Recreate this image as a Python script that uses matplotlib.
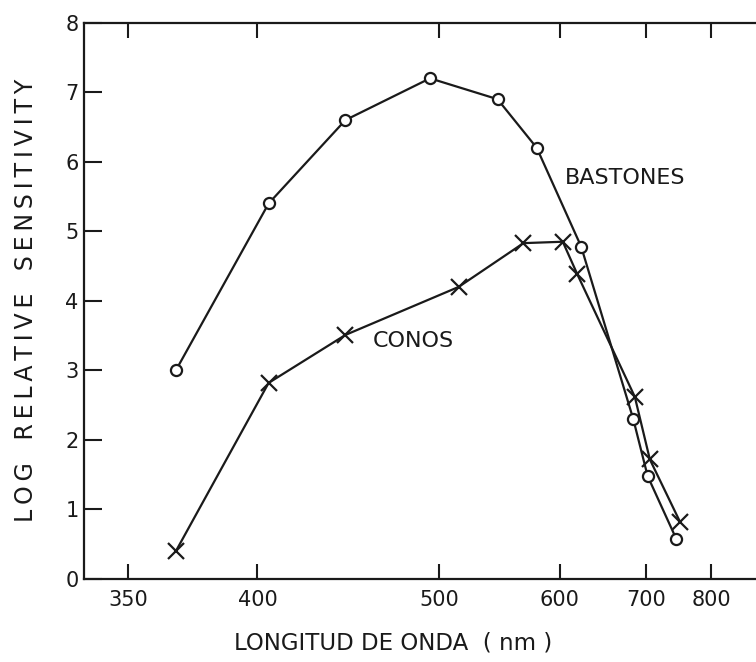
import numpy as np
import matplotlib.pyplot as plt
from matplotlib.ticker import FixedLocator, NullLocator

# rods (bastones) - circles
bast_wl = [367, 405, 443, 494, 544, 578, 622, 683, 702, 743]
bast_val = [3.0, 5.4, 6.6, 7.2, 6.9, 6.2, 4.78, 2.3, 1.48, 0.58]

# cones (conos) - crosses
conos_wl = [367, 405, 443, 514, 566, 603, 618, 685, 705, 749]
conos_val = [0.4, 2.82, 3.51, 4.2, 4.83, 4.85, 4.38, 2.62, 1.72, 0.82]

xticks = [350, 400, 500, 600, 700, 800]
yticks = [0, 1, 2, 3, 4, 5, 6, 7, 8]

ink = '#1a1a1a'

fig = plt.figure(figsize=(7.56, 6.62), dpi=100)
ax = fig.add_axes([84 / 756, 1 - 579 / 662, 676 / 756, (579 - 22.7) / 662])

# wavelength axis is linear in 1/lambda (wavenumber)
def fwd(x):
    with np.errstate(divide='ignore'):
        return -1.0 / np.asarray(x, dtype=float)

ax.set_xscale('function', functions=(fwd, fwd))

ax.plot(bast_wl, bast_val, color=ink, lw=1.6, marker='o', ms=8,
        mfc='white', mec=ink, mew=1.6, zorder=3)
ax.plot(conos_wl, conos_val, color=ink, lw=1.6, marker='x', ms=11,
        mec=ink, mew=1.6, zorder=3)

ax.set_xlim(335.8, 897)
ax.set_ylim(0, 8)

ax.xaxis.set_major_locator(FixedLocator(xticks))
ax.xaxis.set_minor_locator(NullLocator())
ax.set_xticklabels([str(t) for t in xticks])
ax.set_yticks(yticks)

ax.spines['right'].set_visible(False)
for s in ['left', 'top', 'bottom']:
    ax.spines[s].set_linewidth(1.6)
    ax.spines[s].set_color(ink)

ax.tick_params(axis='x', direction='in', top=True, bottom=True, length=11,
               width=1.5, labelsize=15, pad=8, colors=ink)
ax.tick_params(axis='y', direction='in', left=True, right=False, length=13,
               width=1.5, labelsize=15, pad=4, colors=ink)

ax.text(605, 5.77, 'BASTONES', fontsize=16, color=ink, va='center', ha='left')
ax.text(458, 3.42, 'CONOS', fontsize=16, color=ink, va='center', ha='left')

ax.set_xlabel('LONGITUD DE ONDA  ( nm )', fontsize=16.5, color=ink)
ax.xaxis.set_label_coords(0.457, -0.095)
ylab = '\u2009'.join('LOG RELATIVE SENSITIVITY').replace('\u2009 \u2009', '   ')
ax.set_ylabel(ylab, fontsize=17, color=ink)
ax.yaxis.set_label_coords(-0.068, 0.5)

fig.savefig('out.png', dpi=100, facecolor='white')
